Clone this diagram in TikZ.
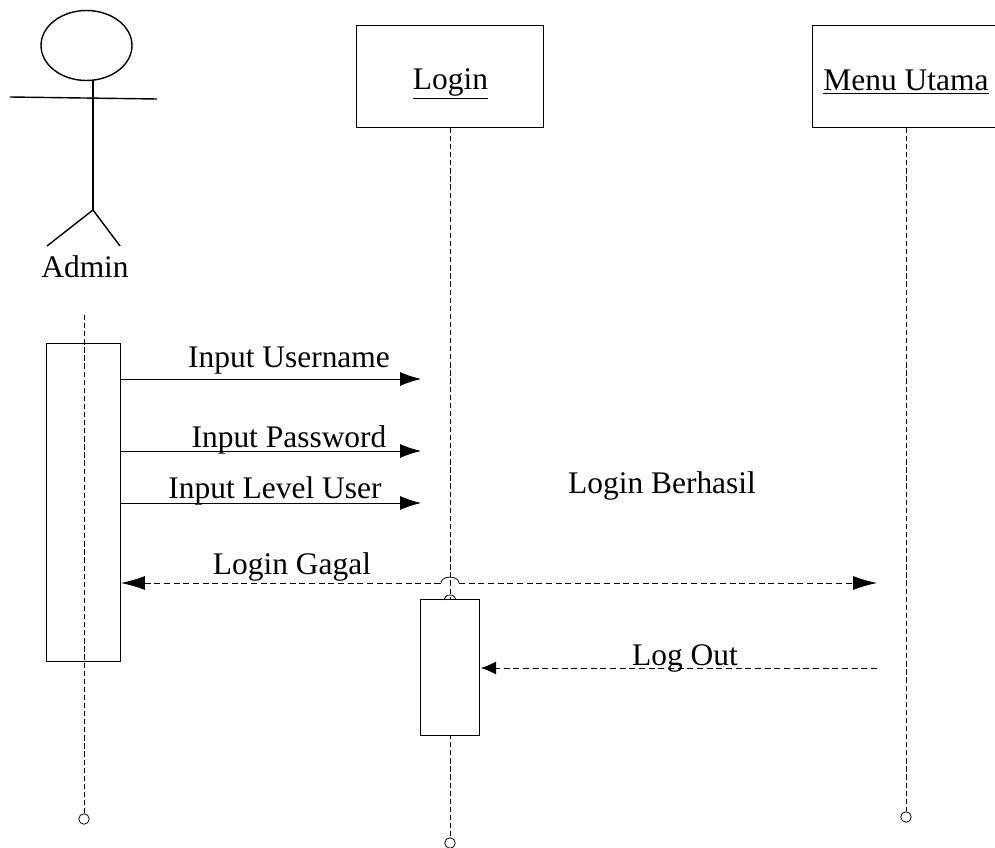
\documentclass[tikz,border=0pt]{standalone}
\usepackage{fontspec}
\setmainfont{Liberation Serif}
\usetikzlibrary{arrows.meta,shapes.geometric}
\tikzset{
  box/.style={draw,line width=0.45pt,minimum width=3.74cm,minimum height=2.04cm,inner sep=0pt},
  activation/.style={draw,fill=white,line width=0.45pt,inner sep=0pt},
  endpoint/.style={circle,draw,line width=0.45pt,fill=white,minimum size=0.21cm,inner sep=0pt},
  lifeline/.style={line width=0.45pt,dash pattern=on 3pt off 1.6pt},
  message/.style={line width=0.5pt,-{Latex[length=0.42cm,width=0.28cm]}},
  reply/.style={line width=0.45pt,dash pattern=on 3.5pt off 2pt}
}
\begin{document}
\begin{tikzpicture}[x=0.02cm,y=-0.02cm,font=\fontsize{17.9}{20}\selectfont]

      \useasboundingbox (0,0) rectangle (995,848);
      \clip (0,0) rectangle (995,848);

      % actor
      \node (head) [ellipse,draw,line width=0.8pt,minimum width=1.82cm,minimum height=1.4cm,inner sep=0pt] at (86.5,45.5) {};
      \coordinate (neck) at (93,80);
      \coordinate (hip) at (93,210);
      \coordinate (handl) at (10,97);
      \coordinate (handr) at (157,99);
      \coordinate (footl) at (47,246);
      \coordinate (footr) at (120,246);
      \begin{scope}[line width=0.8pt]
        \draw (neck) -- (hip);
        \draw (handl) -- (handr);
        \draw (hip) -- (footl);
        \draw (hip) -- (footr);
      \end{scope}
      \node (admin) at (85,267) {Admin};

      % lifelines
      \node (login) [box] at (450,76.5) {};
      \node (logintext) at (450.5,84) {\underline{Login}};
      \node (menu) [box] at (906,76.5) {};
      \node (menutext) at (906,82) {\underline{Menu Utama}};
      \coordinate (admintop) at (84,315);

      \begin{scope}[every node/.style={endpoint}]
        \node (endadmin) at (84,819) {};
        \node (endlogin) at (450,843) {};
        \node (endmenu)  at (906,817) {};
      \end{scope}

      \draw[lifeline] (admintop) -- (endadmin);
      \draw[lifeline] (login.south) -- (endlogin);
      \draw[lifeline] (menu.south) -- (endmenu);

      \node (actadmin) [activation,minimum width=1.48cm,minimum height=6.36cm,fill=none] at (83.7,502) {};
      \node (actlogin) [activation,minimum width=1.18cm,minimum height=2.72cm] at (450.2,667.8) {};

      % messages
      \coordinate (a1) at (121,379);
      \coordinate (b1) at (421,379);
      \coordinate (a2) at (121,451);
      \coordinate (b2) at (421,451);
      \coordinate (a3) at (121,503);
      \coordinate (b3) at (421,503);
      \coordinate (a4) at (121,583);
      \coordinate (b4) at (877,583);
      \coordinate (hopl) at (441,583);
      \coordinate (hopr) at (459,583);
      \coordinate (c5) at (877,668);
      \coordinate (d5) at (481,668);

      \draw[message] (a1) -- (b1);
      \draw[message] (a2) -- (b2);
      \draw[message] (a3) -- (b3);

      \draw[reply,{Latex[length=0.48cm,width=0.28cm]}-] (a4) -- (hopl);
      \draw[reply,-{Latex[length=0.48cm,width=0.28cm]}] (hopr) -- (b4);
      \draw[line width=0.45pt] (hopl) arc[start angle=180,end angle=360,x radius=9,y radius=6];
      \draw[line width=0.45pt] (444,600) arc[start angle=180,end angle=360,x radius=6,y radius=5];
      \draw[reply,-{Latex[length=0.3cm,width=0.26cm]}] (c5) -- (d5);

      % labels
      \node (username) at (289,361) {Input Username};
      \node (password) at (289,440) {Input Password};
      \node (level)    at (275,491) {Input Level User};
      \node (berhasil) at (662,486) {Login Berhasil};
      \node (gagal)    at (292,567) {Login Gagal};
      \node (logout)   at (685,658) {Log Out};

    \end{tikzpicture}
\end{document}
